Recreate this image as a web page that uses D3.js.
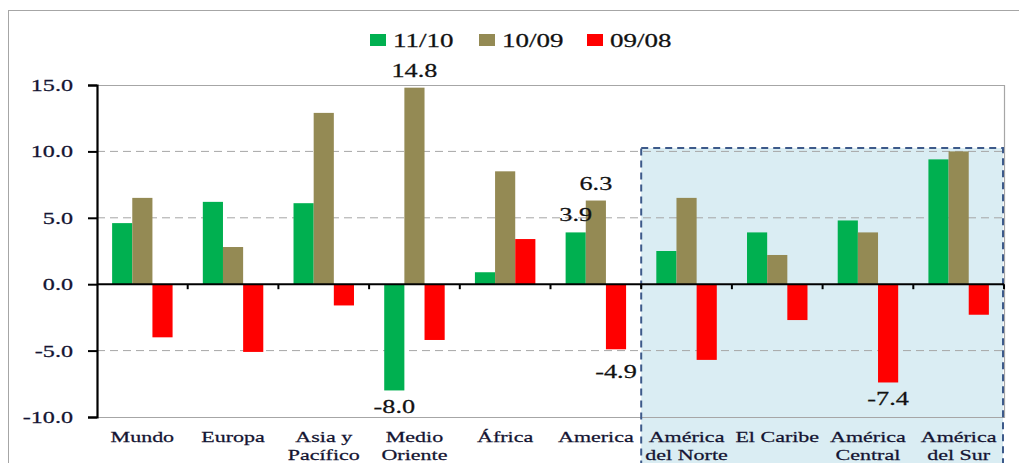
<!DOCTYPE html>
<html><head><meta charset="utf-8">
<script src="https://cdn.jsdelivr.net/npm/d3@7"></script>
<style>html,body{margin:0;padding:0;background:#fff;}svg{display:block;}</style>
</head><body>
<svg id="c" width="1019" height="463"></svg>
<script>
const categories = ["Mundo","Europa","Asia y\nPacífico","Medio\nOriente","África","America","América\ndel Norte","El Caribe","América\nCentral","América\ndel Sur"];
const seriesNames = ["11/10","10/09","09/08"];
const s1110 = [4.6, 6.2, 6.1, -8.0, 0.9, 3.9, 2.5, 3.9, 4.8, 9.4];
const s1009 = [6.5, 2.8, 12.9, 14.8, 8.5, 6.3, 6.5, 2.2, 3.9, 10.0];
const s0908 = [-4.0, -5.1, -1.6, -4.2, 3.4, -4.9, -5.7, -2.7, -7.4, -2.3];
const yTicks = [-10, -5, 0, 5, 10, 15];
const highlighted = ["América\ndel Norte","El Caribe","América\nCentral","América\ndel Sur"];
// labelled points: [category index, series index]
const labelled = [[3,1],[3,0],[5,0],[5,1],[5,2],[8,2]];

const colors = ["#00b050","#948a54","#ff0000"];
const series = [s1110, s1009, s0908];
const SX = 1.42;
const FONT = "'Liberation Serif','Times New Roman',serif";
const fmt = v => d3.format(".1f")(v).replace("\u2212", "-");

const svg = d3.select("#c");
const L = 97, R = 1004, T = 85, B = 417;
const x0 = d3.scaleBand().domain(categories).range([L, R]).paddingInner(0).paddingOuter(0);
const bw = x0.bandwidth();
const x1 = d3.scaleBand().domain(seriesNames).range([bw*0.75/4.5, bw - bw*0.75/4.5]).padding(0);
const y = d3.scaleLinear().domain([-10, 15]).range([B, T]);

function stext(g, x, yy, txt, size, anchor, color){
  return g.append("text")
    .attr("transform", `translate(${x},${yy}) scale(${SX},1)`)
    .attr("text-anchor", anchor || "middle")
    .attr("font-family", FONT)
    .attr("font-size", size)
    .attr("fill", color || "#111")
    .attr("stroke", color || "#111")
    .attr("stroke-width", 0.25)
    .text(txt);
}

// outer frame
svg.append("rect").attr("x", 8.5).attr("y", 10.5).attr("width", 1030).attr("height", 500)
  .attr("fill", "none").attr("stroke", "#a6a6a6").attr("stroke-width", 1);

// highlight box fill
const hx0 = x0(highlighted[0]);
const hx1 = x0(highlighted[highlighted.length-1]) + bw - 1;
const hyTop = y(10.25);
svg.append("rect").attr("x", hx0).attr("y", hyTop).attr("width", hx1 - hx0).attr("height", 480 - hyTop)
  .attr("fill", "#daedf3");

// plot border (top/right/bottom)
svg.append("path").attr("d", `M${L},${T+0.5}H${R+0.5}V${B+0.5}H${L}`)
  .attr("fill", "none").attr("stroke", "#a6a6a6").attr("stroke-width", 1.2);

// gridlines
svg.append("g").selectAll("line").data(yTicks.filter(t => t !== 0 && t !== 15 && t !== -10)).join("line")
  .attr("x1", L).attr("x2", R).attr("y1", d => y(d)).attr("y2", d => y(d))
  .attr("stroke", "#a6a6a6").attr("stroke-width", 1).attr("stroke-dasharray", "8,5");

// bars
const gBars = svg.append("g");
series.forEach((vals, si) => {
  gBars.selectAll(null).data(vals.map((v, i) => ({v, c: categories[i]}))).join("rect")
    .attr("x", d => x0(d.c) + x1(seriesNames[si]))
    .attr("width", x1.bandwidth())
    .attr("y", d => y(Math.max(0, d.v)))
    .attr("height", d => Math.abs(y(d.v) - y(0)))
    .attr("fill", colors[si]);
});

// highlight box border
svg.append("rect").attr("x", hx0).attr("y", hyTop).attr("width", hx1 - hx0).attr("height", 480 - hyTop)
  .attr("fill", "none").attr("stroke", "#3d5a8a").attr("stroke-width", 2).attr("stroke-dasharray", "7,5");

// zero line with category ticks
svg.append("line").attr("x1", L).attr("x2", R).attr("y1", y(0)).attr("y2", y(0))
  .attr("stroke", "#000").attr("stroke-width", 2);
svg.append("g").selectAll("line").data(categories).join("line")
  .attr("x1", d => x0(d) + bw).attr("x2", d => x0(d) + bw)
  .attr("y1", y(0)).attr("y2", y(0) + 5)
  .attr("stroke", "#000").attr("stroke-width", 2);

// y axis
const yAxis = d3.axisLeft(y).tickValues(yTicks).tickSize(9).tickPadding(0).tickFormat(fmt);
const ga = svg.append("g").attr("transform", `translate(${L},0)`).call(yAxis);
ga.select(".domain").attr("stroke", "#000").attr("stroke-width", 2.2);
ga.selectAll(".tick line").attr("stroke", "#000").attr("stroke-width", 2);
ga.selectAll(".tick text").each(function(d){
  const t = d3.select(this);
  const txt = t.text();
  t.remove();
  stext(ga, -24, y(d) + 6, txt, 17, "end", "#141432");
});

// category labels
const gc = svg.append("g");
categories.forEach(c => {
  const lines = c.split("\n");
  lines.forEach((ln, li) => {
    stext(gc, x0(c) + bw/2, 442 + li * 18, ln, 15.5, "middle", "#141432");
  });
});

// data labels
const gl = svg.append("g");
labelled.forEach(([ci, si]) => {
  const v = series[si][ci];
  const cx = x0(categories[ci]) + x1(seriesNames[si]) + x1.bandwidth()/2;
  const yy = v >= 0 ? y(v) - 11 : y(v) + (ci === 5 ? 29 : 23);
  stext(gl, cx, yy, fmt(v), 18.5, "middle", "#111");
});

// legend
const legX = [370, 479, 587];
const lg = svg.append("g");
seriesNames.forEach((n, i) => {
  lg.append("rect").attr("x", legX[i]).attr("y", 34).attr("width", 16).attr("height", 12).attr("fill", colors[i]);
  stext(lg, legX[i] + 23, 47, n, 19, "start", "#111");
});
</script>
</body></html>
